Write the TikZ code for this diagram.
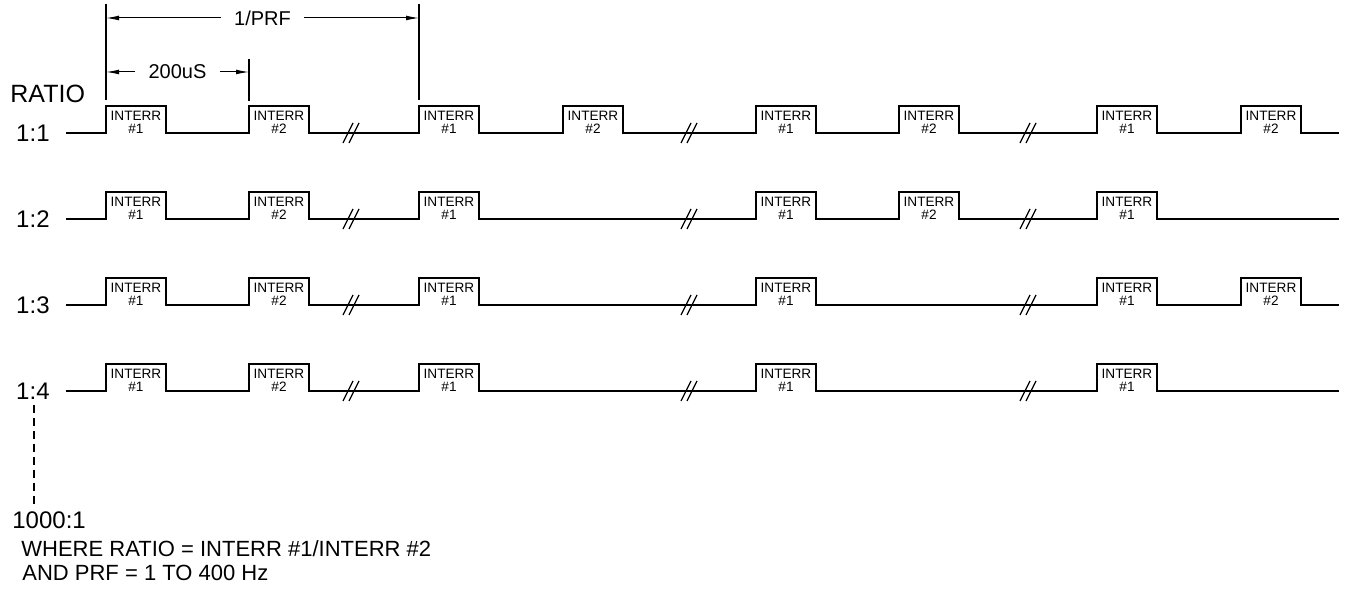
\documentclass[tikz,border=0pt]{standalone}
\usepackage{fontspec}
\setmainfont{Liberation Sans}
\usetikzlibrary{arrows.meta,positioning,calc}

\tikzset{
    sig/.style={line width=0.6pt},
    itxt/.style={anchor=base, inner sep=0pt, font=\fontsize{6.8}{7}\selectfont},
    ratiotxt/.style={inner sep=0pt, font=\fontsize{12}{14}\selectfont},
    dimtxt/.style={inner xsep=6.5pt, inner ysep=1pt, font=\fontsize{10}{12}\selectfont},
    dimarrow/.style={line width=0.5pt, -{Latex[length=6.5pt,width=2.4pt]}},
    noteline/.style={anchor=base west, inner sep=0pt, font=\fontsize{11}{13}\selectfont}
}

\begin{document}
\begin{tikzpicture}[x=0.5pt, y=-0.5pt]
    \useasboundingbox (0,0) rectangle (1345,592);

    % Dimension lines
    \coordinate (e1top) at (106,4);
    \coordinate (e1bot) at (106,100);
    \coordinate (e2top) at (249,59);
    \coordinate (e2bot) at (249,101);
    \coordinate (e3top) at (419,4);
    \coordinate (e3bot) at (419,100);
    \draw[sig] (e1top) -- (e1bot);
    \draw[sig] (e2top) -- (e2bot);
    \draw[sig] (e3top) -- (e3bot);

    \node[dimtxt] (prf) at (262.5,18) {1/PRF};
    \draw[dimarrow] (prf) -- (e1top |- prf);
    \draw[dimarrow] (prf) -- (e3top |- prf);

    \node[dimtxt] (us) at (177.5,72) {200uS};
    \draw[dimarrow] (us) -- (e1top |- us);
    \draw[dimarrow] (us) -- (e2top |- us);

    % Ratio labels
    \node[ratiotxt, anchor=base west, font=\fontsize{12.5}{14}\selectfont] (ratio) at (10,103) {RATIO};

    % Pulse trains
    \foreach \y/\lab/\plist in {
        133/1:1/{106/1,249/2,419/1,563/2,756/1,899/2,1097/1,1241/2},
        219/1:2/{106/1,249/2,419/1,756/1,899/2,1097/1},
        305/1:3/{106/1,249/2,419/1,756/1,1097/1,1241/2},
        391/1:4/{106/1,249/2,419/1,756/1,1097/1}}{
        \node[ratiotxt, anchor=east] (r\y) at (50,\y) {\lab};
        \draw[sig] (66,\y) foreach \x/\n in \plist {
            -- (\x,\y) -- (\x,\y-27) -- (\x+60,\y-27) -- (\x+60,\y) } -- (1339,\y);
        \foreach \x/\n in \plist {
            \node[itxt] (i\y-\x) at (\x+30,\y-12) {INTERR};
            \node[itxt] (n\y-\x) at (\x+30,\y+1) {\#\n};
        }
        % breaks
        \foreach \s in {353,691,1030}
            \draw[sig] (\s-10,\y+10) -- (\s,\y-10) (\s-4,\y+10) -- (\s+6,\y-10);
    }

    % Down to 1000:1
    \coordinate (dtop) at (34,405);
    \coordinate (dbot) at (34,505);
    \draw[sig, dash pattern=on 4pt off 2.5pt] (dtop) -- (dbot);
    \node[ratiotxt, anchor=base west] (rlast) at (12,529) {1000:1};

    % Notes
    \node[noteline] (note1) at (21,557) {WHERE RATIO = INTERR \#1/INTERR \#2};
    \node[noteline] (note2) at (22,581) {AND PRF = 1 TO 400 Hz};
\end{tikzpicture}
\end{document}
